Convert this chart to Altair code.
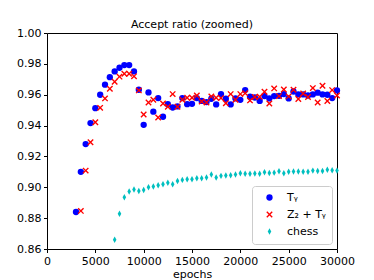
import altair as alt
import pandas as pd

# ---- data ----
ty_epochs = list(range(3000, 30001, 500))
ty_values = [0.884, 0.910, 0.928, 0.9416, 0.9513, 0.960, 0.9665, 0.9714, 0.9751, 0.9775,
             0.9792, 0.9792, 0.9751, 0.9632, 0.9405, 0.9615, 0.949, 0.9578, 0.9457, 0.9539,
             0.9517, 0.9524, 0.9578, 0.9539, 0.9541, 0.9578, 0.956, 0.9552, 0.9574, 0.9537,
             0.9604, 0.9574, 0.9537, 0.9576, 0.9567, 0.963, 0.9587, 0.9582, 0.956, 0.9591,
             0.9576, 0.9591, 0.9593, 0.9604, 0.9576, 0.9621, 0.9602, 0.9602, 0.9595, 0.9602,
             0.9613, 0.9602, 0.960, 0.9578, 0.9628]

z2_epochs = list(range(3500, 30001, 500))
z2_values = [0.8847, 0.9108, 0.9292, 0.9422, 0.9515, 0.9576, 0.9639, 0.9684, 0.9717, 0.9736,
             0.9736, 0.9719, 0.9628, 0.9472, 0.955, 0.9567, 0.9452, 0.9543, 0.9522, 0.9604,
             0.9522, 0.9567, 0.958, 0.958, 0.9595, 0.9556, 0.955, 0.9589, 0.958, 0.9578,
             0.9545, 0.9604, 0.9567, 0.9604, 0.961, 0.9563, 0.9585, 0.9587, 0.9619, 0.9543,
             0.9641, 0.9591, 0.9634, 0.9589, 0.9632, 0.9572, 0.9608, 0.9585, 0.9643, 0.955,
             0.9658, 0.9559, 0.963, 0.9595]

chess_epochs = list(range(7000, 30001, 500))
chess_values = [0.866, 0.8829, 0.8935, 0.8972, 0.8985, 0.8976, 0.8983, 0.900, 0.9005, 0.9013,
                0.902, 0.903, 0.902, 0.9041, 0.9048, 0.9052, 0.9052, 0.9059, 0.9059, 0.9063,
                0.9083, 0.9063, 0.9074, 0.9076, 0.9078, 0.9083, 0.9091, 0.9087, 0.9087, 0.9089,
                0.9087, 0.9098, 0.9093, 0.9095, 0.9104, 0.9091, 0.910, 0.9102, 0.9102, 0.910,
                0.910, 0.9108, 0.9106, 0.9106, 0.9113, 0.9111, 0.9108]

series_names = ["Tᵧ", "Z₂ + Tᵧ", "chess"]
series_colors = ["#0000ff", "#ff0000", "#00bfbf"]

x_ticks = [0, 5000, 10000, 15000, 20000, 25000, 30000]
y_ticks = [0.86, 0.88, 0.90, 0.92, 0.94, 0.96, 0.98, 1.00]

rows = []
for name, xs, ys in zip(series_names,
                        [ty_epochs, z2_epochs, chess_epochs],
                        [ty_values, z2_values, chess_values]):
    for x, y in zip(xs, ys):
        rows.append({"epochs": x, "ratio": y, "series": name})
df = pd.DataFrame(rows)

x_shape = ("M-1,-0.7L-0.7,-1L0,-0.3L0.7,-1L1,-0.7L0.3,0L1,0.7L0.7,1L0,0.3"
           "L-0.7,1L-1,0.7L-0.3,0Z")
diamond_shape = "M0,-1L0.55,0L0,1L-0.55,0Z"

font = "DejaVu Sans"

chart = alt.Chart(df).mark_point(filled=True, opacity=1).encode(
    x=alt.X("epochs:Q",
            scale=alt.Scale(domain=[0, 30000], nice=False, zero=False),
            axis=alt.Axis(values=x_ticks, format="d", title="epochs",
                          labelOverlap=False, labelFlush=False)),
    y=alt.Y("ratio:Q",
            scale=alt.Scale(domain=[0.86, 1.0], nice=False, zero=False),
            axis=alt.Axis(values=y_ticks, format=".2f", title=None,
                          labelOverlap=False, labelFlush=False)),
    color=alt.Color("series:N",
                    scale=alt.Scale(domain=series_names, range=series_colors),
                    legend=alt.Legend(title=None, orient="bottom-right", offset=5,
                                      fillColor="white", strokeColor="#cccccc",
                                      cornerRadius=3, padding=6, rowPadding=4,
                                      labelFontSize=11, labelFont=font,
                                      symbolSize=40, symbolOpacity=1,
                                      symbolOffset=6, labelOffset=12)),
    shape=alt.Shape("series:N",
                    scale=alt.Scale(domain=series_names,
                                    range=["circle", x_shape, diamond_shape])),
    size=alt.Size("series:N",
                  scale=alt.Scale(domain=series_names, range=[40, 42, 85]),
                  legend=None),
).properties(
    width=290,
    height=216,
    title=alt.TitleParams("Accept ratio (zoomed)", fontSize=11, font=font,
                          fontWeight="normal", color="black", offset=-3),
    autosize=alt.AutoSizeParams(type="none"),
    padding={"left": 39, "top": 25, "right": 20, "bottom": 32},
).configure_view(
    stroke="black", strokeWidth=1
).configure_axis(
    grid=False, domain=False, ticks=True, tickColor="black", tickSize=3.5,
    labelColor="black", labelFont=font, labelFontSize=11, labelPadding=2.5,
    titleFont=font, titleFontSize=11, titleFontWeight="normal", titleColor="black",
    titlePadding=2
)

chart.save("out.html", embed_options={"renderer": "svg", "actions": False})
